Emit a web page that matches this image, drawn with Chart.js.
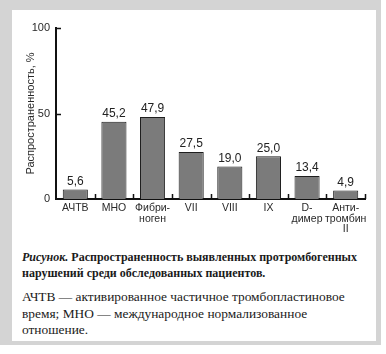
<!DOCTYPE html>
<html>
<head>
<meta charset="utf-8">
<script src="https://cdn.jsdelivr.net/npm/chart.js@4.4.1/dist/chart.umd.min.js"></script>
<style>
  body { margin: 0; background: #fff; width: 386px; height: 354px; overflow: hidden; }
  #frame { position: absolute; left: 0; top: 0; width: 381px; height: 345px; background: #d4d4d4; }
  #inner { position: absolute; left: 12px; top: 10px; width: 364px; height: 331px; background: #fff; }
  #chartBox { position: absolute; left: 0; top: 0; width: 364px; height: 230px; }
  .cap { position: absolute; left: 10px; font-family: "Liberation Serif", "Times New Roman", serif; color: #1a1a1a; white-space: nowrap; }
  #cap1 { top: 239px; font-size: 12px; line-height: 16px; font-weight: bold; }
  #cap2 { top: 279px; font-size: 13.4px; line-height: 16.5px; }
</style>
</head>
<body>
<div id="frame"><div id="inner">
  <div id="chartBox"><canvas id="barcanvas" width="364" height="230"></canvas></div>
  <div class="cap" id="cap1"><i>Рисунок.</i> Распространенность выявленных протромбогенных<br>нарушений среди обследованных пациентов.</div>
  <div class="cap" id="cap2">АЧТВ — активированное частичное тромбопластиновое<br>время; МНО — международное нормализованное<br>отношение.</div>
</div></div>
<script>
// данные с рисунка
let categoryLabels = ["АЧТВ", "МНО", ["Фибри-", "ноген"], "VII", "VIII", "IX", ["D-", "димер"], ["Анти-", "тромбин", "II"]];
let prevalenceValues = [5.6, 45.2, 47.9, 27.5, 19.0, 25.0, 13.4, 4.9];
let yTickValues = [0, 50, 100];

// короткие засечки внутрь осей
const innerTicks = {
    id: 'innerTicks',
    afterDraw(chart) {
        let ctx = chart.ctx;
        let x = chart.scales.x;
        let y = chart.scales.y;
        let area = chart.chartArea;
        ctx.save();
        ctx.strokeStyle = '#111';
        ctx.lineWidth = 1.5;
        ctx.beginPath();
        yTickValues.forEach(function(v) {
            if (v === 0) return;
            let py = Math.round(y.getPixelForValue(v)) + 0.5;
            ctx.moveTo(area.left, py);
            ctx.lineTo(area.left + 5, py);
        });
        for (let i = 0; i < categoryLabels.length; i++) {
            let px = (i < categoryLabels.length - 1)
                ? (x.getPixelForValue(i) + x.getPixelForValue(i + 1)) / 2
                : area.right;
            px = Math.round(px) + 0.5;
            ctx.moveTo(px, area.bottom);
            ctx.lineTo(px, area.bottom - 5);
        }
        ctx.stroke();
        ctx.restore();
    }
};

// подписи значений над столбцами
const valueLabels = {
    id: 'valueLabels',
    afterDatasetsDraw(chart) {
        let ctx = chart.ctx;
        let meta = chart.getDatasetMeta(0);
        ctx.save();
        ctx.font = '12px "Liberation Sans", Arial, sans-serif';
        ctx.fillStyle = '#222';
        ctx.textAlign = 'center';
        ctx.textBaseline = 'bottom';
        meta.data.forEach(function(bar, i) {
            let txt = prevalenceValues[i].toFixed(1).replace('.', ',');
            ctx.fillText(txt, bar.x, bar.y - 2);
        });
        ctx.restore();
    }
};

let barCanvas = document.getElementById('barcanvas').getContext('2d');
let barChart = new Chart(barCanvas, {
    type: 'bar',
    data: {
        labels: categoryLabels,
        datasets: [{
            data: prevalenceValues,
            backgroundColor: '#7b7b7b',
            borderColor: '#1e1e1e',
            borderWidth: 1,
            borderSkipped: 'bottom',
            barPercentage: 1,
            categoryPercentage: 0.65
        }]
    },
    options: {
        responsive: false,
        animation: false,
        layout: { padding: { top: 18, right: 11, left: 12, bottom: 0 } },
        plugins: { legend: { display: false }, tooltip: { enabled: false } },
        scales: {
            x: {
                afterFit: function(scale) { scale.height = 41; },
                grid: { display: false, drawTicks: false },
                border: { display: true, color: '#111', width: 2 },
                ticks: {
                    autoSkip: false,
                    maxRotation: 0,
                    padding: 4,
                    color: '#2a2a2a',
                    font: { family: '"Liberation Sans", Arial, sans-serif', size: 10.5, lineHeight: 1.0 }
                }
            },
            y: {
                min: 0,
                max: 100,
                afterFit: function(scale) { scale.width = 32; },
                afterBuildTicks: function(scale) {
                    scale.ticks = yTickValues.map(function(v) { return { value: v }; });
                },
                grid: { display: false, drawTicks: false },
                border: { display: true, color: '#111', width: 2 },
                ticks: {
                    padding: 6,
                    color: '#2a2a2a',
                    font: { family: '"Liberation Sans", Arial, sans-serif', size: 11 }
                },
                title: {
                    display: true,
                    text: 'Распространенность, %',
                    color: '#2a2a2a',
                    padding: { top: 0, bottom: 0 },
                    font: { family: '"Liberation Sans", Arial, sans-serif', size: 11 }
                }
            }
        }
    },
    plugins: [innerTicks, valueLabels]
});
</script>
</body>
</html>
